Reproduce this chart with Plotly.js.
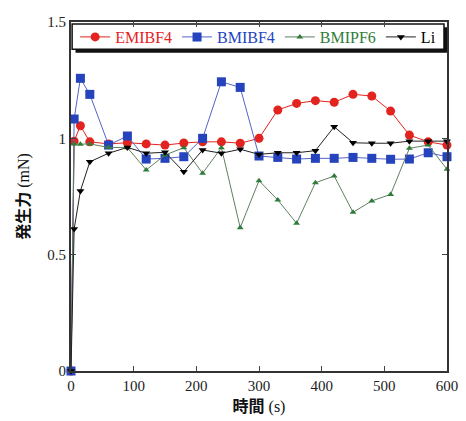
<!DOCTYPE html>
<html>
<head>
<meta charset="utf-8">
<script src="https://cdn.plot.ly/plotly-3.0.1.min.js"></script>
<style>html,body{margin:0;padding:0;background:#fff;}#chart{width:466px;height:421px;}</style>
</head>
<body>
<div id="chart"></div>
<script>
// time (s)
const time = [0, 5, 15, 30, 60, 90, 120, 150, 180, 210, 240, 270, 300, 330, 360, 390, 420, 450, 480, 510, 540, 570, 600];
// generated force (mN)
const emibf4 = [0, 0.988, 1.054, 0.985, 0.976, 0.981, 0.976, 0.971, 0.980, 0.985, 0.985, 0.979, 1.000, 1.122, 1.150, 1.162, 1.155, 1.189, 1.182, 1.117, 1.014, 0.985, 0.971];
const bmibf4 = [0, 1.083, 1.258, 1.189, 0.971, 1.010, 0.911, 0.914, 0.921, 1.000, 1.243, 1.219, 0.924, 0.918, 0.911, 0.914, 0.914, 0.918, 0.914, 0.910, 0.911, 0.938, 0.921];
const bmipf6 = [0, 0.976, 0.975, 0.976, 0.961, 0.960, 0.864, 0.928, 0.960, 0.850, 0.960, 0.616, 0.818, 0.735, 0.635, 0.809, 0.838, 0.682, 0.731, 0.759, 0.957, 0.971, 0.867];
const li     = [0, 0.610, 0.774, 0.899, 0.936, 0.961, 0.936, 0.940, 0.856, 0.950, 0.936, 0.953, 0.931, 0.938, 0.938, 0.947, 1.050, 0.981, 0.979, 0.979, 0.988, 0.988, 0.988];
const seriesNames = ['EMIBF4', 'BMIBF4', 'BMIPF6', 'Li'];
const xTicks = [0, 100, 200, 300, 400, 500, 600];
const yTicks = [0, 0.5, 1, 1.5];

const colors = ['#e3231f', '#2443bd', '#2f7d3a', '#000000'];
const lineColors = ['#e3231f', '#5563c8', '#5f7f62', '#222222'];
const symbols = ['circle', 'square', 'triangle-up', 'triangle-down'];
const sizes = [9, 9, 6, 7];
const ys = [emibf4, bmibf4, bmipf6, li];

const traces = ys.map((y, i) => ({
  x: time, y: y, type: 'scatter', mode: 'lines+markers',
  name: '<span style="color:' + colors[i] + '">' + seriesNames[i] + '</span>',
  line: {color: lineColors[i], width: 1},
  marker: {symbol: symbols[i], size: sizes[i], color: colors[i]},
  cliponaxis: false
}));

const serif = 'Liberation Serif, Times New Roman, serif';
const titleFont = {family: 'Liberation Serif, Noto Sans CJK JP, serif', size: 16, color: '#111'};

const layout = {
  width: 466, height: 421,
  margin: {l: 71, r: 19, t: 22, b: 50},
  paper_bgcolor: '#fff', plot_bgcolor: '#fff',
  showlegend: true,
  legend: {
    orientation: 'h', x: 0.011, y: 0.957, xanchor: 'left', yanchor: 'middle',
    bgcolor: 'rgba(0,0,0,0)', borderwidth: 0,
    font: {family: serif, size: 16, color: '#000'},
    traceorder: 'normal'
  },
  xaxis: {
    range: [0, 600], tickvals: xTicks, ticks: 'inside', ticklen: 5, tickwidth: 1, tickcolor: '#444',
    showline: true, linewidth: 2, linecolor: '#333', mirror: 'ticks', showgrid: false, zeroline: false,
    tickfont: {family: serif, size: 15, color: '#222'},
    title: {text: '<b>時間</b> (s)', font: titleFont, standoff: 8}
  },
  yaxis: {
    range: [0, 1.5], tickvals: yTicks, ticks: 'inside', ticklen: 5, tickwidth: 1, tickcolor: '#444',
    showline: true, linewidth: 2, linecolor: '#333', mirror: 'ticks', showgrid: false, zeroline: false,
    tickfont: {family: serif, size: 15, color: '#222'},
    title: {text: '<b>発生力</b> (mN)', font: titleFont, standoff: 14}
  },
  shapes: [
    {type: 'rect', xref: 'paper', yref: 'paper', x0: 0.012, x1: 1.0, y0: 0.912, y1: 0.985,
     fillcolor: '#111', line: {width: 0}, layer: 'below'},
    {type: 'rect', xref: 'paper', yref: 'paper', x0: 0.003, x1: 0.992, y0: 0.922, y1: 0.994,
     fillcolor: '#fff', line: {color: '#111', width: 1.5}, layer: 'below'}
  ]
};

Plotly.newPlot('chart', traces, layout, {displayModeBar: false, staticPlot: true});
</script>
</body>
</html>
